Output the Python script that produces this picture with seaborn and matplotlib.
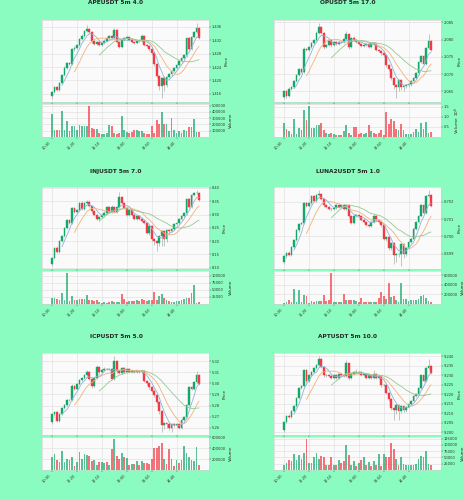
import numpy as np
import pandas as pd
import seaborn as sns
from matplotlib import pyplot as plt
from matplotlib.ticker import MultipleLocator, MaxNLocator, FuncFormatter

# === DATA ===

tick_pos = [0, 10, 20, 30, 40, 50]
tick_labels = ['10:30', '11:20', '12:10', '13:00', '13:50', '14:40']

# APEUSDT
ape_open = [1.4153, 1.4165, 1.4181, 1.4173, 1.4193, 1.4215, 1.4238, 1.4253, 1.4249, 1.4293,
            1.4298, 1.4305, 1.4323, 1.4333, 1.4347, 1.4353, 1.4343, 1.4318, 1.4310, 1.4315,
            1.4307, 1.4313, 1.4318, 1.4325, 1.4331, 1.4327, 1.4351, 1.4315, 1.4301, 1.4321,
            1.4327, 1.4328, 1.4321, 1.4315, 1.4311, 1.4317, 1.4319, 1.4333, 1.4305, 1.4303,
            1.4293, 1.4281, 1.4248, 1.4213, 1.4185, 1.4208, 1.4188, 1.4211, 1.4218, 1.4228,
            1.4237, 1.4245, 1.4257, 1.4267, 1.4275, 1.4325, 1.4295, 1.4328, 1.4343, 1.4355]
ape_close = [1.4165, 1.4181, 1.4173, 1.4193, 1.4215, 1.4238, 1.4253, 1.4249, 1.4293, 1.4298,
             1.4305, 1.4323, 1.4333, 1.4347, 1.4353, 1.4343, 1.4318, 1.4310, 1.4315, 1.4307,
             1.4313, 1.4318, 1.4325, 1.4331, 1.4327, 1.4351, 1.4315, 1.4301, 1.4321, 1.4327,
             1.4328, 1.4321, 1.4315, 1.4311, 1.4317, 1.4319, 1.4333, 1.4305, 1.4303, 1.4293,
             1.4281, 1.4248, 1.4213, 1.4185, 1.4208, 1.4188, 1.4211, 1.4218, 1.4228, 1.4237,
             1.4245, 1.4257, 1.4267, 1.4275, 1.4325, 1.4295, 1.4328, 1.4343, 1.4355, 1.4325]
ape_wick_up = [3, 4, 2, 3, 3, 4, 3, 2, 5, 4, 3, 3, 4, 3, 12, 4, 3, 3, 4, 3,
               3, 4, 3, 4, 3, 6, 3, 4, 3, 3, 3, 3, 4, 3, 3, 4, 6, 3, 3, 3,
               3, 3, 4, 3, 3, 4, 3, 3, 3, 3, 3, 3, 3, 3, 4, 3, 4, 5, 16, 3]
ape_wick_dn = [8, 3, 4, 3, 3, 3, 4, 3, 3, 4, 3, 3, 3, 3, 3, 4, 6, 5, 3, 3,
               3, 3, 3, 3, 3, 3, 4, 3, 3, 3, 3, 3, 3, 3, 3, 3, 3, 3, 3, 4,
               4, 5, 6, 12, 38, 20, 8, 5, 4, 3, 3, 3, 3, 3, 4, 3, 3, 3, 3, 3]
ape_unit = 0.0001
ape_vol = [368000, 116000, 116000, 116000, 416000, 116000, 247000, 95000, 180000, 180000,
           105000, 195000, 180000, 180000, 170000, 500000, 140000, 130000, 130000, 60000,
           55000, 55000, 60000, 195000, 170000, 70000, 40000, 70000, 330000, 110000,
           80000, 60000, 80000, 110000, 105000, 90000, 100000, 60000, 55000, 40000,
           180000, 70000, 275000, 210000, 405000, 205000, 205000, 90000, 300000, 110000,
           60000, 90000, 60000, 110000, 100000, 160000, 160000, 290000, 80000, 85000]

# OPUSDT
op_open = [2.0633, 2.0652, 2.0636, 2.0658, 2.0662, 2.0680, 2.0698, 2.0714, 2.0706, 2.0774,
           2.0770, 2.0778, 2.0790, 2.0798, 2.0820, 2.0836, 2.0820, 2.0780, 2.0784, 2.0800,
           2.0784, 2.0792, 2.0788, 2.0794, 2.0792, 2.0802, 2.0816, 2.0780, 2.0804, 2.0800,
           2.0792, 2.0788, 2.0782, 2.0784, 2.0788, 2.0780, 2.0790, 2.0786, 2.0770, 2.0768,
           2.0762, 2.0755, 2.0725, 2.0715, 2.0690, 2.0668, 2.0662, 2.0682, 2.0662, 2.0666,
           2.0668, 2.0670, 2.0680, 2.0688, 2.0702, 2.0735, 2.0752, 2.0730, 2.0775, 2.0795]
op_close = [2.0652, 2.0636, 2.0658, 2.0662, 2.0680, 2.0698, 2.0714, 2.0706, 2.0774, 2.0770,
            2.0778, 2.0790, 2.0798, 2.0820, 2.0836, 2.0820, 2.0780, 2.0784, 2.0800, 2.0784,
            2.0792, 2.0788, 2.0794, 2.0792, 2.0802, 2.0816, 2.0780, 2.0804, 2.0800, 2.0792,
            2.0788, 2.0782, 2.0784, 2.0788, 2.0780, 2.0790, 2.0786, 2.0770, 2.0768, 2.0762,
            2.0755, 2.0725, 2.0715, 2.0690, 2.0668, 2.0662, 2.0682, 2.0662, 2.0666, 2.0668,
            2.0670, 2.0680, 2.0688, 2.0702, 2.0735, 2.0752, 2.0730, 2.0775, 2.0795, 2.0770]
op_wick_up = [3, 3, 4, 3, 3, 3, 4, 3, 4, 3, 3, 4, 3, 4, 12, 4, 3, 4, 3, 3,
              3, 4, 3, 3, 4, 10, 3, 3, 6, 3, 3, 3, 4, 3, 3, 3, 4, 3, 3, 3,
              3, 4, 3, 3, 3, 3, 3, 3, 3, 3, 3, 3, 4, 3, 4, 3, 3, 4, 20, 3]
op_wick_dn = [5, 4, 3, 3, 3, 3, 4, 3, 3, 4, 3, 3, 3, 3, 3, 4, 8, 4, 3, 4,
              3, 3, 3, 3, 3, 3, 8, 3, 3, 3, 3, 3, 4, 3, 3, 3, 3, 3, 4, 6,
              4, 5, 6, 8, 12, 30, 10, 8, 12, 6, 4, 3, 3, 3, 4, 3, 3, 3, 3, 3]
op_unit = 0.0001
op_vol = [710000, 420000, 290000, 170000, 900000, 170000, 470000, 340000, 1360000, 850000,
          1560000, 470000, 470000, 590000, 590000, 680000, 340000, 200000, 170000, 200000,
          170000, 100000, 90000, 90000, 300000, 590000, 200000, 90000, 500000, 500000,
          170000, 200000, 170000, 200000, 590000, 300000, 200000, 170000, 200000, 340000,
          90000, 1220000, 640000, 900000, 810000, 420000, 340000, 640000, 340000, 170000,
          140000, 170000, 250000, 420000, 250000, 710000, 420000, 760000, 220000, 230000]

# INJUSDT
inj_open = [8.113, 8.138, 8.175, 8.160, 8.200, 8.219, 8.250, 8.279, 8.269, 8.324,
            8.309, 8.317, 8.344, 8.322, 8.344, 8.348, 8.332, 8.313, 8.300, 8.282,
            8.292, 8.297, 8.307, 8.329, 8.309, 8.329, 8.309, 8.329, 8.365, 8.344,
            8.325, 8.300, 8.317, 8.300, 8.282, 8.294, 8.284, 8.275, 8.269, 8.232,
            8.257, 8.207, 8.200, 8.194, 8.219, 8.238, 8.207, 8.242, 8.238, 8.244,
            8.263, 8.269, 8.282, 8.294, 8.304, 8.357, 8.329, 8.374, 8.379, 8.382]
inj_close = [8.138, 8.175, 8.160, 8.200, 8.219, 8.250, 8.279, 8.269, 8.324, 8.309,
             8.317, 8.344, 8.322, 8.344, 8.348, 8.332, 8.313, 8.300, 8.282, 8.292,
             8.297, 8.307, 8.329, 8.309, 8.329, 8.309, 8.329, 8.365, 8.344, 8.325,
             8.300, 8.317, 8.300, 8.282, 8.294, 8.284, 8.275, 8.269, 8.232, 8.257,
             8.207, 8.200, 8.194, 8.219, 8.238, 8.207, 8.242, 8.238, 8.244, 8.263,
             8.269, 8.282, 8.294, 8.304, 8.357, 8.329, 8.374, 8.379, 8.382, 8.354]
inj_wick_up = [3, 3, 4, 3, 3, 3, 4, 3, 4, 3, 4, 3, 4, 3, 6, 4, 3, 4, 3, 3,
               3, 4, 3, 3, 4, 3, 3, 16, 4, 3, 3, 3, 4, 3, 3, 3, 4, 3, 3, 3,
               3, 4, 3, 3, 3, 3, 3, 3, 3, 3, 3, 3, 4, 3, 4, 3, 3, 4, 8, 3]
inj_wick_dn = [5, 4, 3, 3, 3, 3, 4, 3, 3, 4, 3, 3, 3, 3, 3, 4, 6, 4, 3, 4,
               3, 3, 3, 3, 3, 3, 3, 3, 3, 3, 3, 3, 4, 3, 3, 3, 3, 3, 4, 6,
               4, 12, 25, 10, 30, 20, 8, 6, 4, 3, 3, 3, 3, 3, 4, 3, 3, 3, 3, 3]
inj_unit = 0.00125
inj_vol = [22000, 23000, 19000, 13000, 40000, 13000, 112000, 11000, 28000, 13000,
           15000, 19000, 17000, 19000, 31000, 15000, 15000, 10000, 13000, 6000,
           5000, 7000, 4000, 7000, 10000, 6000, 7000, 6000, 35000, 19000,
           7000, 10000, 9000, 11000, 13000, 10000, 17000, 13000, 11000, 13000,
           15000, 42000, 15000, 30000, 35000, 22000, 15000, 11000, 7000, 7000,
           10000, 10000, 15000, 18000, 20000, 22000, 40000, 68000, 4000, 6000]

# LUNA2USDT
luna_open = [0.69852, 0.69886, 0.69906, 0.69892, 0.69940, 0.69980, 0.70036, 0.70072, 0.70080, 0.70192,
             0.70176, 0.70192, 0.70232, 0.70206, 0.70240, 0.70244, 0.70216, 0.70180, 0.70172, 0.70160,
             0.70156, 0.70166, 0.70180, 0.70172, 0.70180, 0.70156, 0.70180, 0.70116, 0.70076, 0.70116,
             0.70126, 0.70120, 0.70096, 0.70086, 0.70066, 0.70060, 0.70086, 0.70120, 0.70096, 0.70086,
             0.70066, 0.69986, 0.69996, 0.69936, 0.69960, 0.69892, 0.69900, 0.69900, 0.69956, 0.69900,
             0.69936, 0.69966, 0.69986, 0.70046, 0.70086, 0.70116, 0.70180, 0.70136, 0.70232, 0.70240]
luna_close = [0.69886, 0.69906, 0.69892, 0.69940, 0.69980, 0.70036, 0.70072, 0.70080, 0.70192, 0.70176,
              0.70192, 0.70232, 0.70206, 0.70240, 0.70244, 0.70216, 0.70180, 0.70172, 0.70160, 0.70156,
              0.70166, 0.70180, 0.70172, 0.70180, 0.70156, 0.70180, 0.70116, 0.70076, 0.70116, 0.70126,
              0.70120, 0.70096, 0.70086, 0.70066, 0.70060, 0.70086, 0.70120, 0.70096, 0.70086, 0.70066,
              0.69986, 0.69996, 0.69936, 0.69960, 0.69892, 0.69900, 0.69900, 0.69956, 0.69900, 0.69936,
              0.69966, 0.69986, 0.70046, 0.70086, 0.70116, 0.70180, 0.70136, 0.70232, 0.70240, 0.70176]
luna_wick_up = [3, 3, 4, 3, 3, 3, 4, 3, 4, 3, 4, 3, 4, 3, 12, 4, 3, 4, 3, 3,
                3, 4, 3, 3, 4, 3, 3, 3, 4, 3, 3, 3, 4, 3, 3, 3, 4, 3, 3, 3,
                3, 4, 3, 3, 3, 3, 3, 3, 3, 3, 3, 3, 4, 3, 4, 3, 3, 4, 14, 3]
luna_wick_dn = [6, 4, 3, 3, 3, 3, 4, 3, 3, 4, 3, 3, 3, 3, 3, 4, 6, 4, 3, 4,
                3, 3, 3, 3, 3, 3, 6, 3, 3, 3, 3, 3, 4, 3, 3, 3, 3, 3, 4, 6,
                4, 5, 6, 8, 25, 20, 10, 35, 12, 6, 4, 3, 3, 3, 4, 3, 3, 3, 3, 3]
luna_unit = 0.00002
luna_vol = [28000, 35000, 86000, 50000, 320000, 45000, 285000, 50000, 180000, 157000,
            30000, 65000, 50000, 57000, 65000, 57000, 185000, 70000, 85000, 657000,
            50000, 50000, 43000, 50000, 200000, 85000, 85000, 93000, 85000, 57000,
            50000, 128000, 43000, 43000, 35000, 43000, 35000, 43000, 120000, 250000,
            157000, 114000, 440000, 143000, 171000, 85000, 35000, 440000, 100000, 107000,
            71000, 93000, 85000, 93000, 100000, 157000, 185000, 121000, 65000, 43000]

# ICPUSDT
icp_open = [5.2651, 5.2720, 5.2741, 5.2660, 5.2726, 5.2780, 5.2807, 5.2846, 5.2852, 5.2981,
            5.2951, 5.2996, 5.3032, 5.3050, 5.3080, 5.3101, 5.3041, 5.2981, 5.3050, 5.3152,
            5.3101, 5.3122, 5.3134, 5.3128, 5.3131, 5.3041, 5.3206, 5.3116, 5.3092, 5.3140,
            5.3104, 5.3128, 5.3104, 5.3116, 5.3104, 5.3116, 5.3104, 5.3116, 5.3026, 5.3002,
            5.2966, 5.2936, 5.2891, 5.2831, 5.2750, 5.2621, 5.2642, 5.2630, 5.2600, 5.2630,
            5.2621, 5.2630, 5.2600, 5.2672, 5.2696, 5.2801, 5.2972, 5.2951, 5.3011, 5.3080]
icp_close = [5.2720, 5.2741, 5.2660, 5.2726, 5.2780, 5.2807, 5.2846, 5.2852, 5.2981, 5.2951,
             5.2996, 5.3032, 5.3050, 5.3080, 5.3101, 5.3041, 5.2981, 5.3050, 5.3152, 5.3101,
             5.3122, 5.3134, 5.3128, 5.3131, 5.3041, 5.3206, 5.3116, 5.3092, 5.3140, 5.3104,
             5.3128, 5.3104, 5.3116, 5.3104, 5.3116, 5.3104, 5.3116, 5.3026, 5.3002, 5.2966,
             5.2936, 5.2891, 5.2831, 5.2750, 5.2621, 5.2642, 5.2630, 5.2600, 5.2630, 5.2621,
             5.2630, 5.2600, 5.2672, 5.2696, 5.2801, 5.2972, 5.2951, 5.3011, 5.3080, 5.2996]
icp_wick_up = [3, 3, 4, 3, 3, 3, 4, 3, 4, 3, 4, 3, 4, 3, 6, 4, 3, 4, 6, 3,
               3, 4, 3, 3, 4, 14, 3, 3, 4, 3, 3, 3, 4, 3, 3, 3, 4, 3, 3, 3,
               3, 4, 3, 3, 3, 3, 3, 3, 3, 3, 3, 3, 4, 3, 4, 3, 3, 4, 10, 3]
icp_wick_dn = [6, 4, 3, 3, 3, 3, 4, 3, 3, 4, 3, 3, 3, 3, 3, 4, 6, 4, 3, 4,
               3, 3, 3, 3, 3, 3, 6, 3, 3, 3, 3, 3, 4, 3, 3, 3, 3, 3, 4, 6,
               4, 5, 6, 8, 20, 12, 10, 8, 12, 6, 4, 3, 3, 3, 4, 3, 3, 3, 3, 3]
icp_unit = 0.0003
icp_vol = [237000, 300000, 188000, 145000, 345000, 145000, 205000, 188000, 237000, 83000,
           145000, 330000, 205000, 300000, 268000, 250000, 175000, 188000, 95000, 145000,
           150000, 138000, 150000, 100000, 390000, 580000, 250000, 205000, 315000, 237000,
           225000, 95000, 113000, 113000, 175000, 95000, 157000, 132000, 132000, 113000,
           205000, 415000, 400000, 435000, 500000, 205000, 113000, 390000, 200000, 83000,
           188000, 132000, 188000, 450000, 305000, 237000, 188000, 175000, 420000, 95000]

# APTUSDT
apt_open = [9.2012, 9.2054, 9.2088, 9.2080, 9.2111, 9.2140, 9.2182, 9.2233, 9.2242, 9.2327,
            9.2267, 9.2298, 9.2318, 9.2335, 9.2355, 9.2383, 9.2344, 9.2298, 9.2301, 9.2293,
            9.2284, 9.2301, 9.2284, 9.2304, 9.2298, 9.2293, 9.2361, 9.2284, 9.2304, 9.2315,
            9.2310, 9.2315, 9.2301, 9.2304, 9.2287, 9.2298, 9.2284, 9.2304, 9.2284, 9.2293,
            9.2250, 9.2250, 9.2208, 9.2174, 9.2128, 9.2117, 9.2145, 9.2114, 9.2140, 9.2117,
            9.2134, 9.2148, 9.2162, 9.2191, 9.2202, 9.2233, 9.2298, 9.2267, 9.2335, 9.2349]
apt_close = [9.2054, 9.2088, 9.2080, 9.2111, 9.2140, 9.2182, 9.2233, 9.2242, 9.2327, 9.2267,
             9.2298, 9.2318, 9.2335, 9.2355, 9.2383, 9.2344, 9.2298, 9.2301, 9.2293, 9.2284,
             9.2301, 9.2284, 9.2304, 9.2298, 9.2293, 9.2361, 9.2284, 9.2304, 9.2315, 9.2310,
             9.2315, 9.2301, 9.2304, 9.2287, 9.2298, 9.2284, 9.2304, 9.2284, 9.2293, 9.2250,
             9.2250, 9.2208, 9.2174, 9.2128, 9.2117, 9.2145, 9.2114, 9.2140, 9.2117, 9.2134,
             9.2148, 9.2162, 9.2191, 9.2202, 9.2233, 9.2298, 9.2267, 9.2335, 9.2349, 9.2310]
apt_wick_up = [3, 3, 4, 3, 3, 3, 4, 3, 4, 3, 4, 3, 4, 3, 10, 4, 3, 4, 3, 3,
               3, 4, 3, 3, 4, 12, 3, 3, 4, 10, 3, 3, 4, 3, 3, 3, 12, 3, 3, 3,
               3, 4, 3, 3, 3, 3, 3, 3, 3, 3, 3, 3, 4, 3, 4, 3, 3, 4, 22, 3]
apt_wick_dn = [6, 4, 3, 3, 3, 3, 4, 3, 3, 4, 3, 3, 3, 3, 3, 4, 6, 4, 3, 4,
               3, 3, 3, 3, 3, 3, 6, 3, 3, 3, 3, 3, 4, 3, 3, 3, 3, 3, 4, 6,
               4, 5, 6, 8, 30, 12, 30, 8, 6, 6, 4, 3, 3, 3, 4, 3, 3, 3, 3, 3]
apt_unit = 0.00017
apt_vol = [21000, 26000, 39000, 34000, 63000, 39000, 60000, 43000, 66000, 125000,
           28000, 28000, 53000, 67000, 43000, 55000, 53000, 21000, 18000, 50000,
           20000, 21000, 41000, 26000, 36000, 99000, 58000, 21000, 34000, 17000,
           26000, 39000, 50000, 20000, 30000, 17000, 34000, 18000, 63000, 17000,
           63000, 53000, 53000, 109000, 85000, 43000, 20000, 50000, 24000, 21000,
           18000, 20000, 21000, 24000, 43000, 56000, 53000, 74000, 24000, 21000]

titles = ['APEUSDT 5m 4.0', 'OPUSDT 5m 17.0', 'INJUSDT 5m 7.0',
          'LUNA2USDT 5m 1.0', 'ICPUSDT 5m 5.0', 'APTUSDT 5m 10.0']
mav_windows = [5, 10, 20]

# === STYLE ===

BG = '#8afcc0'
UP = '#13a86a'
DOWN = '#f23a44'
WICK = '#9a9a9a'
MA_COLORS = ['#8fb3d9', '#f2b27a', '#93c993']

sns.set_theme(style='whitegrid')
plt.rcParams['font.family'] = ['DejaVu Sans']

charts = [
    dict(o=ape_open, c=ape_close, wu=ape_wick_up, wd=ape_wick_dn, unit=ape_unit, v=ape_vol,
         step=0.004, vbins=6, vexp=0),
    dict(o=op_open, c=op_close, wu=op_wick_up, wd=op_wick_dn, unit=op_unit, v=op_vol,
         step=0.005, vbins=4, vexp=6),
    dict(o=inj_open, c=inj_close, wu=inj_wick_up, wd=inj_wick_dn, unit=inj_unit, v=inj_vol,
         step=0.05, vbins=5, vexp=0),
    dict(o=luna_open, c=luna_close, wu=luna_wick_up, wd=luna_wick_dn, unit=luna_unit, v=luna_vol,
         step=0.001, vbins=4, vexp=0),
    dict(o=icp_open, c=icp_close, wu=icp_wick_up, wd=icp_wick_dn, unit=icp_unit, v=icp_vol,
         step=0.01, vbins=4, vexp=0),
    dict(o=apt_open, c=apt_close, wu=apt_wick_up, wd=apt_wick_dn, unit=apt_unit, v=apt_vol,
         step=0.005, vbins=6, vexp=0),
]

W, H = 464, 500
col_left = [42, 274]
row_top = [20, 187, 353]
title_y = [3, 171, 337]
AX_W, PRICE_H, GAP, VOL_H = 167, 82, 2, 33


def rect(x, y, w, h):
    return [x / W, 1 - (y + h) / H, w / W, h / H]


def style_axis(ax):
    ax.set_facecolor('#fafafa')
    ax.grid(True, color='#dcdcdc', lw=0.4)
    for s in ax.spines.values():
        s.set_color('#d0d0d0')
        s.set_linewidth(0.4)
    ax.yaxis.tick_right()
    ax.yaxis.set_label_position('right')
    ax.tick_params(labelsize=2.6, length=1.2, width=0.3, pad=1,
                   colors='#333333', left=False, right=True, bottom=True)
    ax.set_xlim(-4, 63)


def draw(ax_p, ax_v, d):
    o = np.array(d['o'])
    c = np.array(d['c'])
    hi = np.maximum(o, c) + np.array(d['wu']) * d['unit']
    lo = np.minimum(o, c) - np.array(d['wd']) * d['unit']
    x = np.arange(len(c))
    colors = np.where(c >= o, UP, DOWN)

    ax_p.vlines(x, lo, hi, color=WICK, lw=0.4, zorder=2)
    ax_p.bar(x, np.abs(c - o), bottom=np.minimum(o, c), width=0.7,
             color=colors, edgecolor=colors, lw=0.3, zorder=3)
    closes = pd.Series(c)
    for w, col in zip(mav_windows, MA_COLORS):
        sns.lineplot(x=x, y=closes.rolling(w).mean().values, ax=ax_p,
                     color=col, lw=0.6, legend=False, zorder=4)
    pad = (hi.max() - lo.min()) * 0.04
    ax_p.set_ylim(lo.min() - pad, hi.max() + pad)
    ax_p.yaxis.set_major_locator(MultipleLocator(d['step']))
    ax_p.ticklabel_format(axis='y', useOffset=False)
    ax_p.set_xticks(tick_pos)
    ax_p.set_xticklabels([])
    ax_p.set_ylabel('Price', fontsize=3, labelpad=2)

    vols = np.array(d['v'])
    ax_v.bar(x, vols, width=0.7, color=colors, alpha=0.7, lw=0, zorder=3)
    ax_v.set_ylim(0, vols.max() * 1.05)
    ax_v.yaxis.set_major_locator(MaxNLocator(nbins=d['vbins'], prune='lower'))
    if d['vexp']:
        e = d['vexp']
        ax_v.yaxis.set_major_formatter(FuncFormatter(lambda v, p: f'{v / 10 ** e:.1f}'))
        ax_v.set_ylabel(f'Volume  $10^{{{e}}}$', fontsize=3, labelpad=2)
    else:
        ax_v.yaxis.set_major_formatter(FuncFormatter(lambda v, p: f'{int(v)}'))
        ax_v.set_ylabel('Volume', fontsize=3, labelpad=2)
    ax_v.set_xticks(tick_pos)
    ax_v.set_xticklabels(tick_labels, rotation=45, ha='right')


fig = plt.figure(figsize=(W / 100, H / 100), dpi=100, facecolor=BG)

for k, d in enumerate(charts):
    r, cidx = divmod(k, 2)
    x0, y0 = col_left[cidx], row_top[r]
    ax_p = fig.add_axes(rect(x0, y0, AX_W, PRICE_H))
    ax_v = fig.add_axes(rect(x0, y0 + PRICE_H + GAP, AX_W, VOL_H))
    style_axis(ax_p)
    style_axis(ax_v)
    draw(ax_p, ax_v, d)
    fig.text((cidx * 232 + 116) / W, 1 - title_y[r] / H, titles[k],
             ha='center', va='center', fontsize=4.2, fontweight='bold')

fig.savefig('out.png', dpi=100, facecolor=BG)
